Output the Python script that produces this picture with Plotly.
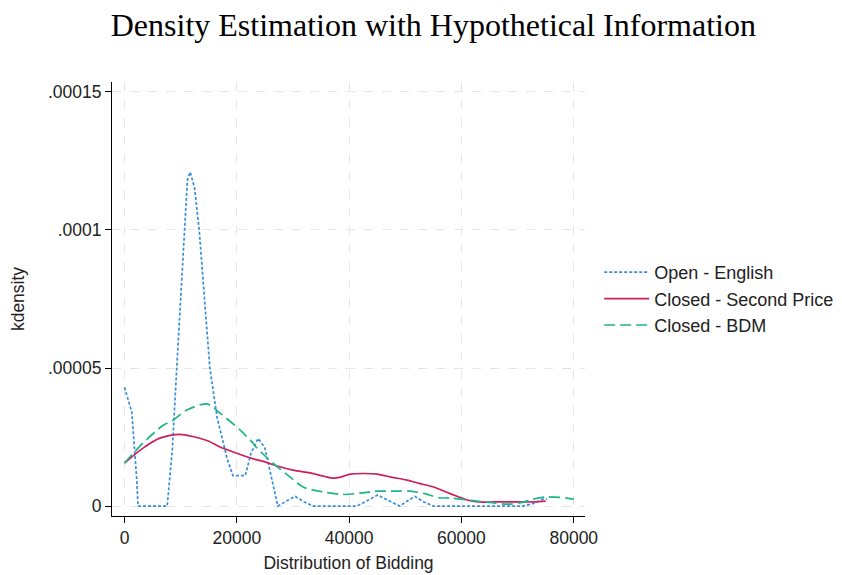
import plotly.graph_objects as go

# ---- data (density values in units of 1e-5) ----
open_x = [0, 1300, 2200, 2400, 7600, 8500, 9300, 10600, 11200, 11700, 12500, 13300, 14200,
          15200, 16500, 18300, 19300, 21500, 22500, 23800, 25000, 26000, 27300, 29000, 30400,
          32000, 33600, 41400, 43300, 45100, 47000, 49000, 50500, 51700, 53300, 55000, 71000,
          73000, 74500, 75200]
open_y = [4.3, 3.4, 0.9, 0, 0, 2.0, 5.0, 10.0, 11.8, 12.1, 11.5, 10.0, 7.5,
          5.0, 3.2, 1.7, 1.1, 1.1, 1.9, 2.45, 2.1, 1.2, 0, 0.2, 0.35,
          0.15, 0, 0, 0.2, 0.4, 0.2, 0, 0.2, 0.35, 0.15, 0, 0,
          0.1, 0.25, 0.25]

second_x = [0, 3300, 6300, 9900, 12500, 15000, 17000, 19500, 22400, 25000, 27200, 30000,
            33000, 35500, 37100, 38500, 40200, 42500, 45000, 47500, 50300, 52500, 55000,
            58000, 61000, 63000, 66000, 69000, 72800, 75000]
second_y = [1.56, 2.1, 2.46, 2.6, 2.5, 2.35, 2.14, 1.95, 1.74, 1.6, 1.45, 1.3,
            1.2, 1.08, 1.01, 1.05, 1.16, 1.18, 1.16, 1.05, 0.94, 0.82, 0.69,
            0.45, 0.22, 0.15, 0.15, 0.15, 0.15, 0.18]

bdm_x = [0, 3300, 6900, 8600, 11100, 14700, 17000, 20600, 22800, 23600, 26400, 29500,
         31800, 35400, 39000, 42000, 45000, 48000, 50900, 53500, 56000, 58000, 62800,
         65500, 68100, 70500, 72800, 75200, 78800, 80000]
bdm_y = [1.56, 2.28, 2.93, 3.1, 3.48, 3.7, 3.37, 2.75, 2.3, 2.1, 1.56, 1.05,
         0.69, 0.51, 0.42, 0.47, 0.54, 0.54, 0.54, 0.45, 0.3, 0.29, 0.18,
         0.12, 0.07, 0.12, 0.25, 0.33, 0.29, 0.25]

x_ticks = [0, 20000, 40000, 60000, 80000]
x_ticklabels = ["0", "20000", "40000", "60000", "80000"]
y_ticks = [0, 0.00005, 0.0001, 0.00015]
y_ticklabels = ["0", ".00005", ".0001", ".00015"]

scale = 1e-5

fig = go.Figure()
fig.add_trace(go.Scatter(
    x=open_x, y=[v * scale for v in open_y], mode="lines", name="Open - English",
    line=dict(color="#3a8cd8", width=1.7, dash="3px,2px")))
fig.add_trace(go.Scatter(
    x=second_x, y=[v * scale for v in second_y], mode="lines", name="Closed - Second Price",
    line=dict(color="#cc1f5c", width=1.7, shape="spline", smoothing=0.8)))
fig.add_trace(go.Scatter(
    x=bdm_x, y=[v * scale for v in bdm_y], mode="lines", name="Closed - BDM",
    line=dict(color="#1fb587", width=1.7, dash="11px,5px", shape="spline", smoothing=0.8)))

axis_font = dict(family="Liberation Sans, Arial, sans-serif", size=17.5, color="#222")

fig.update_layout(
    width=834, height=567,
    paper_bgcolor="white", plot_bgcolor="white",
    margin=dict(l=104, r=257, t=74, b=59, autoexpand=False),
    title=dict(text="Density Estimation with Hypothetical Information",
               font=dict(family="Liberation Serif, Times New Roman, serif", size=32, color="black"),
               x=0.51, xanchor="center", yref="container", y=0.99, yanchor="top"),
    showlegend=True,
    legend=dict(x=1.03, y=0.5, xanchor="left", yanchor="middle", itemwidth=45,
                font=dict(family="Liberation Sans, Arial, sans-serif", size=18, color="#222"),
                bgcolor="rgba(0,0,0,0)", tracegroupgap=0),
    xaxis=dict(range=[-2226, 82000], tickvals=x_ticks, ticktext=x_ticklabels,
               showline=True, linecolor="black", linewidth=1, mirror=False, automargin=False,
               ticks="outside", ticklen=6, tickcolor="black", tickfont=axis_font,
               showgrid=True, gridcolor="#e6e6e6", griddash="dash", zeroline=False,
               title=dict(text="Distribution of Bidding", font=axis_font, standoff=9)),
    yaxis=dict(range=[-0.0000036, 0.0001536], tickvals=y_ticks, ticktext=y_ticklabels,
               showline=True, linecolor="black", linewidth=1, mirror=False, automargin=False,
               ticks="outside", ticklen=6, tickcolor="black", tickfont=axis_font,
               showgrid=True, gridcolor="#e6e6e6", griddash="dash", zeroline=False,
               title=dict(text="kdensity", font=axis_font, standoff=19)),
)

fig.write_html("out.html")
